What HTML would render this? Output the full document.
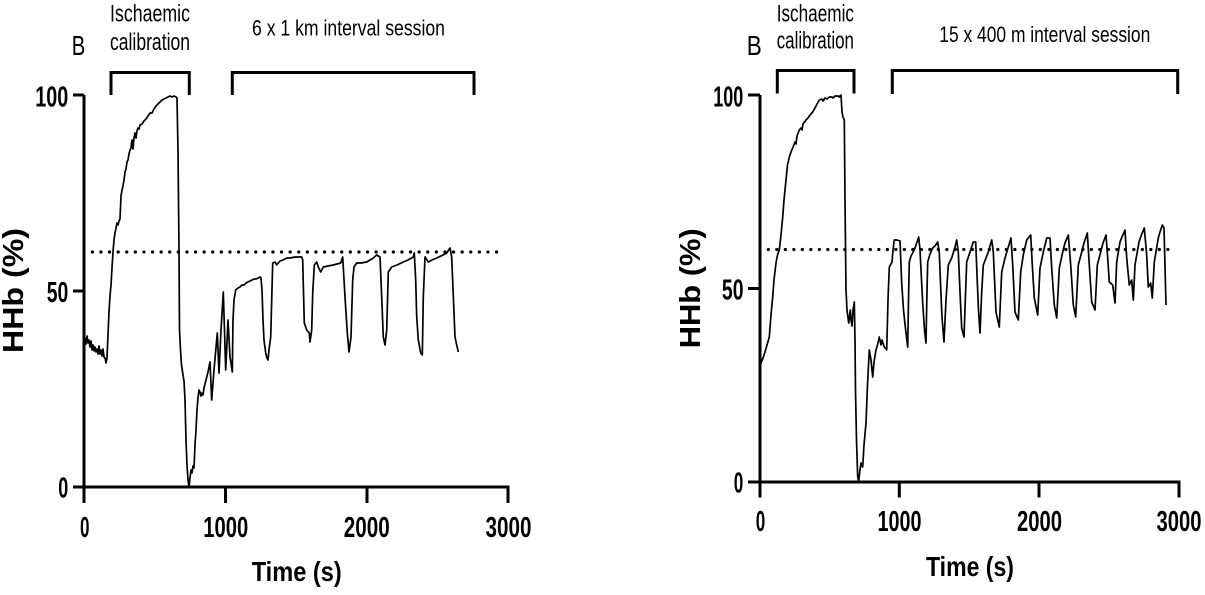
<!DOCTYPE html>
<html>
<head>
<meta charset="utf-8">
<style>
  html, body { margin: 0; padding: 0; background: #ffffff; }
  svg { display: block; }
  text { font-family: "Liberation Sans", Arial, sans-serif; fill: #000; }
  .tick { font-weight: bold; font-size: 29px; }
  .ttl { font-weight: bold; }
  .hdr { font-size: 24px; }
</style>
</head>
<body>
<svg width="1205" height="595" viewBox="0 0 1205 595" xmlns="http://www.w3.org/2000/svg">
  <rect x="0" y="0" width="1205" height="595" fill="#ffffff"/>

  <!-- ================= LEFT CHART ================= -->
  <text x="71.7" y="55" font-size="28" textLength="13.5" lengthAdjust="spacingAndGlyphs">B</text>
  <text class="hdr" x="110" y="21.7" textLength="80" lengthAdjust="spacingAndGlyphs">Ischaemic</text>
  <text class="hdr" x="110" y="50" textLength="80" lengthAdjust="spacingAndGlyphs">calibration</text>
  <text x="252" y="35.5" font-size="22.5" textLength="193" lengthAdjust="spacingAndGlyphs">6 x 1 km interval session</text>

  <!-- brackets -->
  <polyline points="111,95 111,72.5 189.3,72.5 189.3,95" fill="none" stroke="#000" stroke-width="3"/>
  <polyline points="232.3,95 232.3,72.5 474,72.5 474,95" fill="none" stroke="#000" stroke-width="3"/>

  <!-- axes -->
  <line x1="84" y1="95" x2="84" y2="488.5" stroke="#000" stroke-width="3"/>
  <line x1="82.5" y1="487" x2="509.5" y2="487" stroke="#000" stroke-width="3"/>
  <line x1="73" y1="95" x2="84" y2="95" stroke="#000" stroke-width="3"/>
  <line x1="73" y1="291" x2="84" y2="291" stroke="#000" stroke-width="3"/>
  <line x1="73" y1="487" x2="84" y2="487" stroke="#000" stroke-width="3"/>
  <line x1="84" y1="487" x2="84" y2="503" stroke="#000" stroke-width="3"/>
  <line x1="225.5" y1="487" x2="225.5" y2="503" stroke="#000" stroke-width="3"/>
  <line x1="367" y1="487" x2="367" y2="503" stroke="#000" stroke-width="3"/>
  <line x1="508" y1="487" x2="508" y2="503" stroke="#000" stroke-width="3"/>

  <!-- y tick labels -->
  <text class="tick" x="68.3" y="106.5" text-anchor="end" textLength="33" lengthAdjust="spacingAndGlyphs">100</text>
  <text class="tick" x="68.3" y="302" text-anchor="end" textLength="21.6" lengthAdjust="spacingAndGlyphs">50</text>
  <text class="tick" x="68.3" y="497.5" text-anchor="end" textLength="10" lengthAdjust="spacingAndGlyphs">0</text>
  <!-- x tick labels -->
  <text class="tick" x="84.7" y="537" text-anchor="middle" textLength="9.5" lengthAdjust="spacingAndGlyphs">0</text>
  <text class="tick" x="225.8" y="537" text-anchor="middle" textLength="45" lengthAdjust="spacingAndGlyphs">1000</text>
  <text class="tick" x="366.7" y="537" text-anchor="middle" textLength="46" lengthAdjust="spacingAndGlyphs">2000</text>
  <text class="tick" x="508.5" y="537" text-anchor="middle" textLength="46" lengthAdjust="spacingAndGlyphs">3000</text>

  <!-- axis titles -->
  <text class="ttl" x="296.7" y="581" font-size="28" text-anchor="middle" textLength="90" lengthAdjust="spacingAndGlyphs">Time (s)</text>
  <text class="ttl" font-size="29" text-anchor="middle" textLength="125" lengthAdjust="spacingAndGlyphs" transform="translate(23,290.5) rotate(-90)">HHb (%)</text>

  <!-- dotted 60% line -->
  <line x1="92.3" y1="252" x2="501" y2="252" stroke="#000" stroke-width="3.2" stroke-linecap="round" stroke-dasharray="0.1 8.5"/>

  <!-- data -->
  <polyline fill="none" stroke="#000" stroke-width="1.7" stroke-linejoin="round" points="
    84,345 85,338 86,344 87,336 88,343 89,340 90,347 91,341 92,350 93,345 94,351 95,347 96,352 97,349 98,354 99,346 100,354 101,350 102,356 103,349 104,357 105,358 106,363
    107,358 108,335 109,312 110,296 111,285 112,268 113,252 114,240 115,233 116,228 117,223 118,225 119,221 120,219 121,196 122,190 123,186 124,180 125,172 126,169 127,162 128,160 129,154 130,150 131,148 132,140 133,149 134,138 135,133 136,138 137,131 138,128 139,129 140,125 142,124 144,121 146,119 148,116 150,113 152,113 154,109 156,106 158,104 160,102 162,100 164,99 166,98 168,97 170,96 172,97 174,96 176,97
    177,98 178,150 179,250 179.5,330 180.5,350 181.5,365 183,375 184,381 185,400 186,440 187,465 188,480 189,487 190,478 191,470 192,473 193,466 194,468 195,445 196,430 197,410 198,398 199,390 200,392 201,396 202,393 203,395 204,388 206,380 208,372 210,362 211.7,400 214,370 217.3,333 219,373 221,330 223.3,292 225.7,370 228,320 230,357 232.3,372 233,320 234,300 235.7,290
    238,288 240,287 242,285 244,285 246,283 248,282 250,281 252,280 254,279 256,279 258,278 260,277 261,278 262,290 263,320 264,340 265.7,353 267,358 268,360 269,350 270.7,337 271.7,300 272.7,263 275,262 276.7,265 280,261 283,260 286.7,258 290,258 295,257 301.7,257 302.7,260
    304.3,323 306.7,330 309.3,333 310,342 311.7,330 312.7,293 314.3,265 316.7,262 318.3,267 320.7,272 323.3,267 328,266 333.3,265 337,264 340.7,263 342.7,257
    345,297 347.3,333 349,352 351,337 352.7,280 354,267 356.7,263 361,263 366.7,262 370,260 373.3,258 376.7,255 380,257
    381.7,297 383.3,337 385,345 386.7,330 388.3,272 391.7,267 397,265 403.3,262 408,260 413.3,257 414.3,253
    415.7,280 416.7,317 418.3,340 420.7,353 422.3,355 423.3,297 425,257 428.3,262 432,260 436.7,258 441,256 446.7,253 450,248
    451.7,257 454,313 455,337 456.5,344 458.3,352"/>

  <!-- ================= RIGHT CHART ================= -->
  <text x="746.7" y="55" font-size="28" textLength="15" lengthAdjust="spacingAndGlyphs">B</text>
  <text class="hdr" x="776.7" y="21.7" textLength="77.3" lengthAdjust="spacingAndGlyphs">Ischaemic</text>
  <text class="hdr" x="776.7" y="48.7" textLength="77.3" lengthAdjust="spacingAndGlyphs">calibration</text>
  <text x="939.3" y="42" font-size="22.5" textLength="211" lengthAdjust="spacingAndGlyphs">15 x 400 m interval session</text>

  <!-- brackets -->
  <polyline points="777.3,93.5 777.3,70.5 854,70.5 854,93.5" fill="none" stroke="#000" stroke-width="3"/>
  <polyline points="892.3,94 892.3,70.5 1177.7,70.5 1177.7,94" fill="none" stroke="#000" stroke-width="3"/>

  <!-- axes -->
  <line x1="760" y1="95" x2="760" y2="483.5" stroke="#000" stroke-width="3"/>
  <line x1="758.5" y1="482" x2="1180.5" y2="482" stroke="#000" stroke-width="3"/>
  <line x1="748" y1="95" x2="760" y2="95" stroke="#000" stroke-width="3"/>
  <line x1="748" y1="288.5" x2="760" y2="288.5" stroke="#000" stroke-width="3"/>
  <line x1="748" y1="482" x2="760" y2="482" stroke="#000" stroke-width="3"/>
  <line x1="760" y1="482" x2="760" y2="497.5" stroke="#000" stroke-width="3"/>
  <line x1="899.3" y1="482" x2="899.3" y2="497.5" stroke="#000" stroke-width="3"/>
  <line x1="1039" y1="482" x2="1039" y2="497.5" stroke="#000" stroke-width="3"/>
  <line x1="1179" y1="482" x2="1179" y2="497.5" stroke="#000" stroke-width="3"/>

  <!-- y tick labels -->
  <text class="tick" x="743.3" y="106.5" text-anchor="end" textLength="30" lengthAdjust="spacingAndGlyphs">100</text>
  <text class="tick" x="743.5" y="299.5" text-anchor="end" textLength="21.6" lengthAdjust="spacingAndGlyphs">50</text>
  <text class="tick" x="743.3" y="492.5" text-anchor="end" textLength="9.5" lengthAdjust="spacingAndGlyphs">0</text>
  <!-- x tick labels -->
  <text class="tick" x="760.5" y="531" text-anchor="middle" textLength="9.5" lengthAdjust="spacingAndGlyphs">0</text>
  <text class="tick" x="899.5" y="531" text-anchor="middle" textLength="44" lengthAdjust="spacingAndGlyphs">1000</text>
  <text class="tick" x="1039.5" y="531" text-anchor="middle" textLength="45" lengthAdjust="spacingAndGlyphs">2000</text>
  <text class="tick" x="1179" y="531" text-anchor="middle" textLength="45" lengthAdjust="spacingAndGlyphs">3000</text>

  <!-- axis titles -->
  <text class="ttl" x="970" y="576" font-size="28" text-anchor="middle" textLength="88" lengthAdjust="spacingAndGlyphs">Time (s)</text>
  <text class="ttl" font-size="29" text-anchor="middle" textLength="120" lengthAdjust="spacingAndGlyphs" transform="translate(700,288.3) rotate(-90)">HHb (%)</text>

  <!-- dotted 60% line -->
  <line x1="768.3" y1="249.5" x2="1172" y2="249.5" stroke="#000" stroke-width="3.2" stroke-linecap="round" stroke-dasharray="0.1 8.4"/>

  <!-- data -->
  <polyline fill="none" stroke="#000" stroke-width="1.7" stroke-linejoin="round" points="
    760,364 761,363 763,358 765,352 767,345 769.3,337 771,315 772.7,297 774,280 776,263 777.5,255 779.3,250 781,235 782.7,217 784,200 786,180 787.5,165 789.3,157 791,152 792.7,148 795,142 796,144 797,136 799.3,130 801,128 802,130 803,124 806,120 808,118 810,115 812.7,112 815,108 817,104 819.3,100 822,99 823,101 825,98 827,99 829.3,97 832,97 833,98 835,96 838,96 839,97 841,95
    842,112 843,117 844.3,120 845,200 846,290 847,310 848.7,323 850.3,310 851,320 852,326 853,310 854.3,302 855,340 855.5,390 856.5,440 857.7,477 858.7,481 860,470 861,463 862.7,467 864,445 866,423 867.5,385 869.3,350 871,360 872.7,377 874,362 876,350 877.5,345 879.3,337 881,345 882,340 884.3,347 886.7,350
    888,300 889.3,267 892,262 893,250 894.3,240 897,240 900,241 901.7,283 903.5,310 905.3,327 906.5,337 907.7,347
    908.5,300 909.3,262 911,256 912.7,253 915,248 918.7,237 920,250 921.5,280 922.7,303 924.5,330 926,343
    926.8,300 927.7,262 930,254 932.7,248 935,246 937.7,242 939.3,253 941,295 942,317 944,342
    946,300 948.3,265 951.7,258 955,247 956.7,240 958.3,252 960,292 961.7,328 964,337
    965.3,300 966.7,262 970,252 973.3,242 975.7,242 977.3,282 978.5,310 980,333
    981.7,292 983.3,265 988.3,252 991.7,240 993.3,252 996,312 999.3,327
    1001.7,272 1005,258 1008,248 1011,238 1012.7,265 1015,312 1018.3,320
    1020.7,272 1023.3,255 1026.7,240 1030.7,235 1032.3,265 1034.3,298 1037.7,315
    1040,268 1043.3,252 1046.7,238 1050,238 1051.7,268 1054.3,305 1056.7,318
    1059.3,268 1062.7,252 1065,243 1068.3,235 1070.7,265 1073.3,305 1075.7,317
    1078.3,265 1081.7,252 1084,243 1087.3,233 1089.3,265 1091.7,302 1095,310
    1097.3,265 1100.7,252 1103,243 1106,235 1107.7,258 1109.3,282 1112.7,285 1115,303
    1116.7,262 1120,242 1122,237 1125,230 1126.7,258 1129.3,285 1131.7,280 1133.3,300
    1135,265 1139,242 1141,236 1144.3,228 1146.7,255 1148.3,287 1150.7,283 1152.3,298
    1154.3,262 1158.3,238 1160,232 1162.3,225 1164,228 1166,305"/>
</svg>
</body>
</html>
